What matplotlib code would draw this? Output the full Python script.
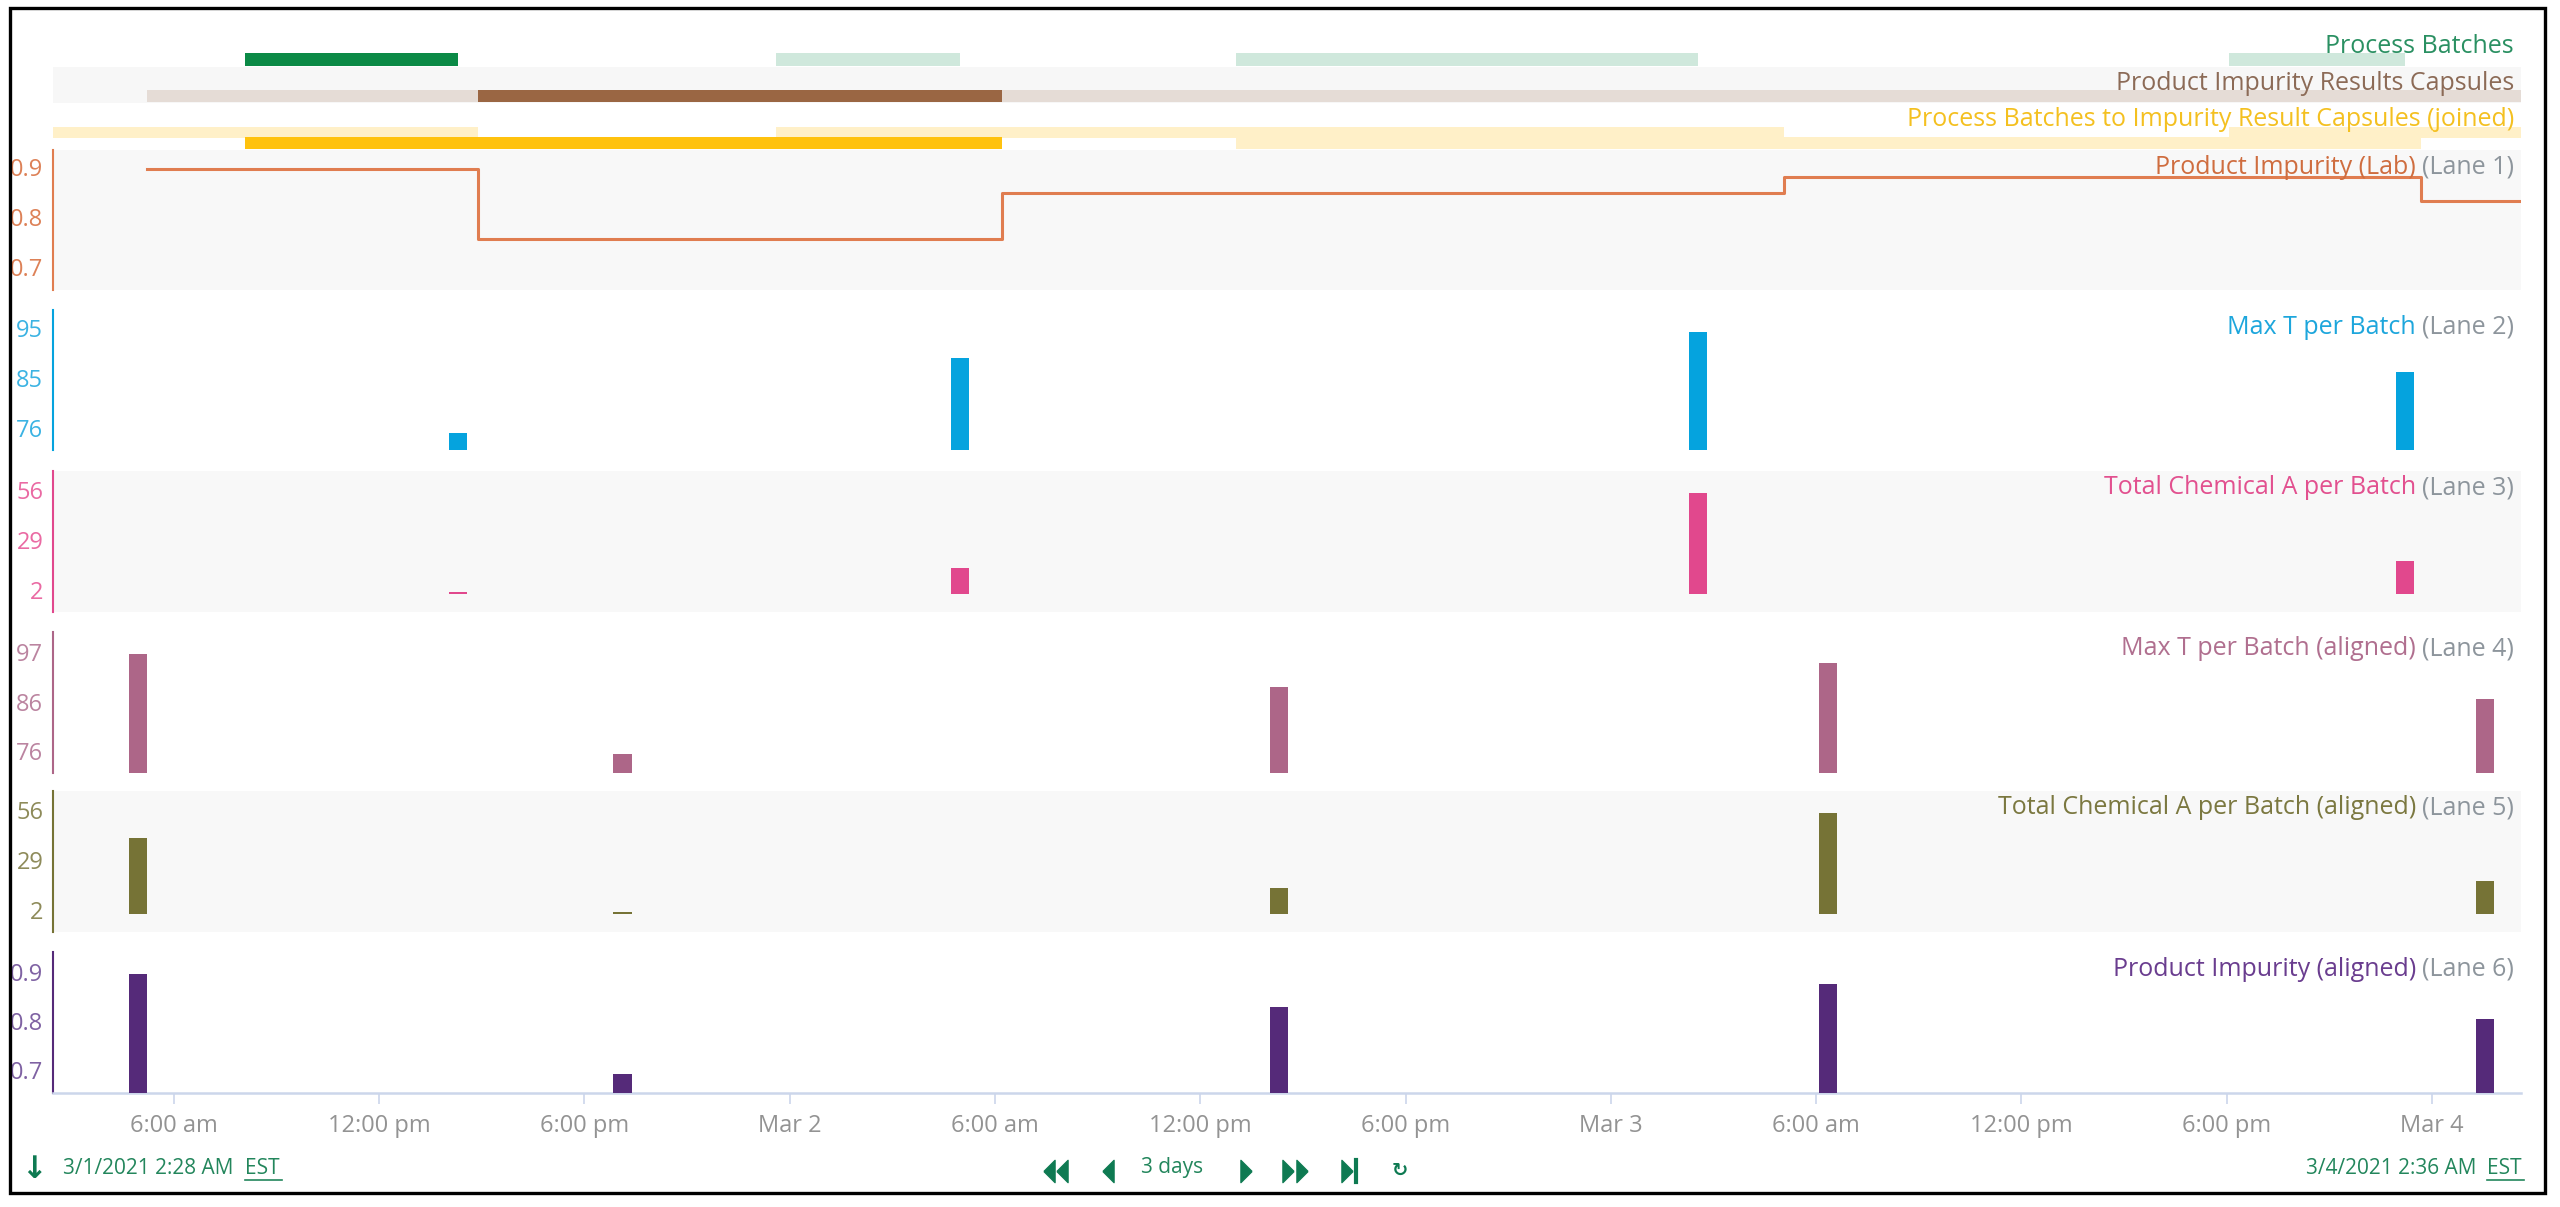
import matplotlib
matplotlib.use("Agg")
import matplotlib.pyplot as plt
import matplotlib.dates as mdates
import pandas as pd
from matplotlib.patches import Rectangle
from matplotlib.lines import Line2D

plt.rcParams['font.family'] = ['Open Sans', 'DejaVu Sans']

# ---------------- data ----------------
view_start = "2021-03-01 02:28"
view_end = "2021-03-04 02:36"

batch_start = ["2021-03-01 08:05", "2021-03-01 23:36", "2021-03-02 13:03", "2021-03-03 18:04"]
batch_end = ["2021-03-01 14:18", "2021-03-02 04:59", "2021-03-03 02:33", "2021-03-03 23:13"]
batch_selected = [True, False, False, False]

capsule_start = ["2021-03-01 05:13", "2021-03-01 14:53", "2021-03-02 06:12", "2021-03-03 05:04", "2021-03-03 23:41"]
capsule_end = ["2021-03-01 14:53", "2021-03-02 06:12", "2021-03-03 05:04", "2021-03-03 23:41", "2021-03-04 06:00"]
capsule_selected = [False, True, False, False, False]

joined_start = ["2021-02-28 20:00", "2021-03-01 08:05", "2021-03-01 23:36", "2021-03-02 13:03", "2021-03-03 18:04"]
joined_end = ["2021-03-01 14:53", "2021-03-02 06:12", "2021-03-03 05:04", "2021-03-03 23:41", "2021-03-04 06:00"]
joined_row = [0, 1, 0, 1, 0]
joined_selected = [False, True, False, False, False]

impurity_lab = [0.896, 0.756, 0.848, 0.880, 0.832]          # Lane 1 (per capsule)
max_t_batch = [75.1, 89.3, 94.2, 86.6]                        # Lane 2 (at batch end)
chem_a_batch = [1.0, 13.9, 54.4, 17.7]                        # Lane 3 (at batch end)

aligned_time = ["2021-03-01 04:57", "2021-03-01 19:07", "2021-03-02 14:18", "2021-03-03 06:21", "2021-03-04 01:33"]
max_t_aligned = [96.6, 75.4, 89.6, 94.7, 87.0]               # Lane 4
chem_a_aligned = [40.9, 1.0, 13.9, 54.5, 17.8]               # Lane 5
impurity_aligned = [0.896, 0.692, 0.829, 0.875, 0.804]       # Lane 6

lane_names = ["Product Impurity (Lab)", "Max T per Batch", "Total Chemical A per Batch",
              "Max T per Batch (aligned)", "Total Chemical A per Batch (aligned)",
              "Product Impurity (aligned)"]
lane_ticks = [[0.7, 0.8, 0.9], [76, 85.5, 95], [2, 29, 56], [76, 86.5, 97], [2, 29, 56], [0.7, 0.8, 0.9]]
lane_ticklabels = [["0.7", "0.8", "0.9"], ["76", "85", "95"], ["2", "29", "56"],
                   ["76", "86", "97"], ["2", "29", "56"], ["0.7", "0.8", "0.9"]]

x_ticks = ["2021-03-01 06:00", "2021-03-01 12:00", "2021-03-01 18:00", "2021-03-02 00:00",
           "2021-03-02 06:00", "2021-03-02 12:00", "2021-03-02 18:00", "2021-03-03 00:00",
           "2021-03-03 06:00", "2021-03-03 12:00", "2021-03-03 18:00", "2021-03-04 00:00"]
x_ticklabels = ["6:00 am", "12:00 pm", "6:00 pm", "Mar 2", "6:00 am", "12:00 pm", "6:00 pm",
                "Mar 3", "6:00 am", "12:00 pm", "6:00 pm", "Mar 4"]

band_names = ["Process Batches", "Product Impurity Results Capsules",
              "Process Batches to Impurity Result Capsules (joined)"]

# ---------------- helpers ----------------
def T(s):
    return mdates.date2num(pd.Timestamp(s))

W, H = 2560, 1207
fig = plt.figure(figsize=(W / 100, H / 100), dpi=100)
fig.patch.set_facecolor('white')

AX_L, AX_R = 53, 2521
t0, t1 = T(view_start), T(view_end)
BAR_W = 0.0225  # days
FS = 18
TFS = 17
GRAY = '#8d959c'
LABEL_XF = (2514 - AX_L) / (AX_R - AX_L)


def px_axes(x0, y0, x1, y1):
    return fig.add_axes([x0 / W, 1 - y1 / H, (x1 - x0) / W, (y1 - y0) / H])


def clean(ax):
    for s in ax.spines.values():
        s.set_visible(False)
    ax.set_xlim(t0, t1)
    ax.tick_params(left=False, bottom=False, labelleft=False, labelbottom=False)


# ---------------- top bands ----------------
# band A: Process Batches
axA = px_axes(AX_L, 31, AX_R, 67)
clean(axA)
axA.set_ylim(0, 1)
axA.set_facecolor('white')
for s, e, sel in zip(batch_start, batch_end, batch_selected):
    axA.broken_barh([(T(s), T(e) - T(s))], (0.03, 0.36),
                    facecolor='#0b8a46' if sel else '#cfe8dc')
axA.text(LABEL_XF, 0.56, band_names[0], transform=axA.transAxes, ha='right', va='center',
         color='#2a9062', fontsize=FS, zorder=5)

# band B: capsules
axB = px_axes(AX_L, 67, AX_R, 103)
clean(axB)
axB.set_ylim(0, 1)
axB.set_facecolor('#f7f7f7')
for s, e, sel in zip(capsule_start, capsule_end, capsule_selected):
    axB.broken_barh([(T(s), T(e) - T(s))], (0.03, 0.335),
                    facecolor='#9a6643' if sel else '#e5dcd6')
axB.text(LABEL_XF, 0.53, band_names[1], transform=axB.transAxes, ha='right', va='center',
         color='#8c6b57', fontsize=FS, zorder=5)

# band C: joined
axC = px_axes(AX_L, 103, AX_R, 150)
clean(axC)
axC.set_ylim(0, 1)
axC.set_facecolor('white')
row_pos = {0: (0.255, 0.235), 1: (0.02, 0.255)}
order = sorted(range(len(joined_start)), key=lambda i: joined_selected[i])
for i in order:
    s, e, r, sel = joined_start[i], joined_end[i], joined_row[i], joined_selected[i]
    axC.broken_barh([(T(s), T(e) - T(s))], row_pos[r],
                    facecolor='#ffc20e' if sel else '#fff0c8', zorder=3 if sel else 2)
axC.text(LABEL_XF, 0.64, band_names[2], transform=axC.transAxes, ha='right', va='center',
         color='#f4c020', fontsize=FS, zorder=5)

# ---------------- lanes ----------------
lane_px = [(150, 290), (310, 450), (471, 612), (632, 773), (791, 932), (952, 1093)]
lane_bg = ['#f8f8f8', 'white', '#f8f8f8', 'white', '#f8f8f8', 'white']
lane_color = ['#e07d50', '#05a3de', '#e1488d', '#ad6688', '#767336', '#552a79']
lane_tickcolor = ['#dd8157', '#3bb3e3', '#ea6aa3', '#bb84a0', '#8e8b5a', '#7f62a3']
lane_labelcolor = ['#cf6d3f', '#1da6dc', '#e2508f', '#b06f8f', '#7b7840', '#6a3d8f']
lane_ylim = [(0.654, 0.934), (71.8, 98.4), (-9.9, 66.3), (71.3, 101.3), (-9.9, 66.3), (0.653, 0.941)]

axes = []
for i, (top, bot) in enumerate(lane_px):
    ax = px_axes(AX_L, top, AX_R, bot)
    ax.set_facecolor(lane_bg[i])
    ax.set_xlim(t0, t1)
    ax.set_ylim(*lane_ylim[i])
    for s in ['top', 'right', 'bottom']:
        ax.spines[s].set_visible(False)
    ax.spines['left'].set_color(lane_color[i])
    ax.spines['left'].set_linewidth(1.5)
    ax.set_yticks(lane_ticks[i])
    ax.set_yticklabels(lane_ticklabels[i])
    ax.tick_params(axis='y', length=0, pad=7, labelsize=TFS, labelcolor=lane_tickcolor[i])
    ax.tick_params(axis='x', bottom=False, labelbottom=False)
    g = ax.text(LABEL_XF, 1 - 17 / (bot - top), f"(Lane {i + 1})", transform=ax.transAxes,
                ha='right', va='center', color=GRAY, fontsize=FS, zorder=6)
    ax.annotate(lane_names[i], xy=(0, 0.5), xycoords=g, xytext=(-6, 0),
                textcoords='offset pixels', ha='right', va='center',
                color=lane_labelcolor[i], fontsize=FS, zorder=6)
    axes.append(ax)

# Lane 1: step line
st = [T(s) for s in capsule_start] + [T(capsule_end[-1])]
sv = impurity_lab + [impurity_lab[-1]]
axes[0].step(st, sv, where='post', color=lane_color[0], lw=2.2, zorder=3)

# Lane 2 & 3 bars at batch end
be = [T(s) for s in batch_end]
axes[1].bar(be, [v - lane_ylim[1][0] for v in max_t_batch], bottom=lane_ylim[1][0],
            width=BAR_W, color=lane_color[1], zorder=3)
axes[2].bar(be, chem_a_batch, bottom=0, width=BAR_W, color=lane_color[2], zorder=3)

# Lanes 4-6 aligned bars
at = [T(s) for s in aligned_time]
axes[3].bar(at, [v - lane_ylim[3][0] for v in max_t_aligned], bottom=lane_ylim[3][0],
            width=BAR_W, color=lane_color[3], zorder=3)
axes[4].bar(at, chem_a_aligned, bottom=0, width=BAR_W, color=lane_color[4], zorder=3)
axes[5].bar(at, [v - lane_ylim[5][0] for v in impurity_aligned], bottom=lane_ylim[5][0],
            width=BAR_W, color=lane_color[5], zorder=3)

# x axis on last lane
axx = axes[5]
axx.spines['bottom'].set_visible(True)
axx.spines['bottom'].set_color('#ccd6eb')
axx.spines['bottom'].set_linewidth(1.8)
axx.set_xticks([T(s) for s in x_ticks])
axx.set_xticklabels(x_ticklabels)
axx.tick_params(axis='x', bottom=True, labelbottom=True, length=8, width=1.2, color='#ccd6eb',
                labelsize=TFS, labelcolor='#939393', pad=7)

# ---------------- bottom controls ----------------
GREEN = '#23865c'
DGREEN = '#0e7a52'
YC = 1 - 1168 / H


def fx(x):
    return x / W


fig.text(fx(34), 1 - 1170 / H, "\u2193", ha='center', va='center', color=DGREEN, fontsize=22,
         fontweight='bold', family='DejaVu Sans')
t_left = fig.text(fx(63), YC, "3/1/2021 2:28 AM", ha='left', va='center', color=GREEN, fontsize=15)
fig.text(fx(245), YC, "EST", ha='left', va='center', color=GREEN, fontsize=15)
fig.add_artist(Line2D([fx(245), fx(282)], [1 - 1180 / H] * 2, color=GREEN, lw=1.2,
                      transform=fig.transFigure))
fig.text(fx(2476), YC, "3/4/2021 2:36 AM", ha='right', va='center', color=GREEN, fontsize=15)
fig.text(fx(2487), YC, "EST", ha='left', va='center', color=GREEN, fontsize=15)
fig.add_artist(Line2D([fx(2487), fx(2524)], [1 - 1180 / H] * 2, color=GREEN, lw=1.2,
                      transform=fig.transFigure))
fig.text(fx(1141), YC, "3 days", ha='left', va='center', color=GREEN, fontsize=15)

left_tri = [(-0.5, 0), (0.5, 1), (0.5, -1), (-0.5, 0)]
right_tri = [(0.5, 0), (-0.5, 1), (-0.5, -1), (0.5, 0)]
YA = 1 - 1171 / H
for xc, m in [(1049, left_tri), (1062, left_tri), (1108, left_tri), (1246, right_tri),
              (1288, right_tri), (1302, right_tri), (1347, right_tri)]:
    fig.add_artist(Line2D([fx(xc)], [YA], marker=m, ms=16, color=DGREEN, lw=0,
                          transform=fig.transFigure))
fig.add_artist(Line2D([fx(1356)] * 2, [1 - 1160 / H, 1 - 1182 / H], color=DGREEN, lw=3,
                      transform=fig.transFigure))
fig.text(fx(1400), 1 - 1170 / H, "\u21bb", ha='center', va='center', color=DGREEN, fontsize=14,
         fontweight='bold', family='DejaVu Sans')

# frame
fig.add_artist(Rectangle((10 / W, 1 - 1193 / H), 2535 / W, 1185 / H, fill=False,
                         edgecolor='black', lw=2.4, transform=fig.transFigure))

fig.savefig("out.png", dpi=100, facecolor='white')
